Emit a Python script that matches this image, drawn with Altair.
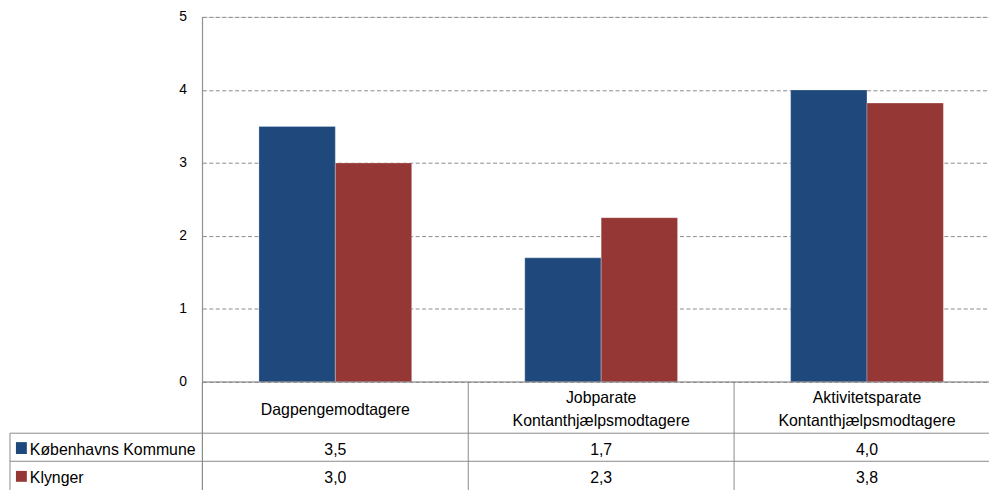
import altair as alt
import pandas as pd

# ---- data ----
categories = ["Dagpengemodtagere", "Jobparate Kontanthjælpsmodtagere", "Aktivitetsparate Kontanthjælpsmodtagere"]
category_lines = [["Dagpengemodtagere"], ["Jobparate", "Kontanthjælpsmodtagere"], ["Aktivitetsparate", "Kontanthjælpsmodtagere"]]
series = ["Københavns Kommune", "Klynger"]
kk_values = [3.5, 1.7, 4.0]
kl_values = [3.0, 2.25, 3.82]
kk_labels = ["3,5", "1,7", "4,0"]
kl_labels = ["3,0", "2,3", "3,8"]
y_ticks = [0, 1, 2, 3, 4, 5]
colors = ["#1F497D", "#953735"]

FONT = "Liberation Sans"
LINE = "#8a8a8a"

bars_df = pd.DataFrame({
    "category": categories * 2,
    "series": [series[0]] * 3 + [series[1]] * 3,
    "value": kk_values + kl_values,
    "label": kk_labels + kl_labels,
})
cat_df = pd.DataFrame({"category": categories, "lines": category_lines,
                       "n": [len(l) for l in category_lines]})
rows_df = pd.DataFrame({"series": series})
one = pd.DataFrame({"a": [0]})

x_scale = alt.Scale(domain=categories, range=[0, 804], paddingInner=0, paddingOuter=0)
x_enc = alt.X("category:N", sort=categories, scale=x_scale, axis=None)
color_enc = alt.Color("series:N", scale=alt.Scale(domain=series, range=colors), legend=None)

bars = alt.Chart(bars_df).mark_bar(stroke="white", strokeOpacity=0.35, strokeWidth=0.8).encode(
    x=x_enc,
    xOffset=alt.XOffset("series:N", sort=series, scale=alt.Scale(paddingInner=0, paddingOuter=0.74)),
    y=alt.Y("value:Q", scale=alt.Scale(domain=[0, 5]),
            axis=alt.Axis(values=y_ticks, title=None, domain=False, ticks=False,
                          labelPadding=16, labelFontSize=14, labelColor="#000000",
                          labelFont=FONT, grid=True, gridColor=LINE,
                          gridDash=[4, 2.5], gridWidth=1)),
    color=color_enc,
)

# table lines
def hrule(y, x0, x1):
    return alt.Chart(one).mark_rule(color=LINE, strokeWidth=1).encode(
        x=alt.value(x0), x2=alt.value(x1), y=alt.value(y))

def vrule(x, y0, y1):
    return alt.Chart(one).mark_rule(color=LINE, strokeWidth=1).encode(
        x=alt.value(x), y=alt.value(y0), y2=alt.value(y1))

sep = alt.Chart(cat_df).mark_rule(color=LINE, strokeWidth=1).encode(
    x=alt.X("category:N", sort=categories, scale=x_scale, axis=None, bandPosition=0),
    y=alt.value(368), y2=alt.value(490))

cat_text1 = alt.Chart(cat_df).transform_filter(alt.datum.n == 1).mark_text(
    font=FONT, fontSize=16, color="#000000", baseline="middle", lineHeight=23).encode(
    x=x_enc, y=alt.value(396), text="lines:N")
cat_text2 = alt.Chart(cat_df).transform_filter(alt.datum.n == 2).mark_text(
    font=FONT, fontSize=16, color="#000000", baseline="middle", lineHeight=23).encode(
    x=x_enc, y=alt.value(384.5), text="lines:N")

row_y = [436.5, 464.5]
sq_y = [(428.7, 440.7), (457.7, 468.7)]
layers = [bars, sep, cat_text1, cat_text2,
          hrule(368, 0, 820), hrule(419.7, -194, 820), hrule(448, -194, 820),
          vrule(0, 0, 490), vrule(-194, 419.7, 490)]
for i, s in enumerate(series):
    vals = alt.Chart(bars_df).transform_filter(alt.datum.series == s).mark_text(
        font=FONT, fontSize=16, color="#000000", baseline="middle").encode(
        x=x_enc, y=alt.value(row_y[i]), text="label:N")
    sq = alt.Chart(rows_df).transform_filter(alt.datum.series == s).mark_rect().encode(
        x=alt.value(-188), x2=alt.value(-177), y=alt.value(sq_y[i][0]), y2=alt.value(sq_y[i][1]),
        color=color_enc)
    lab = alt.Chart(rows_df).transform_filter(alt.datum.series == s).mark_text(
        font=FONT, fontSize=16, color="#000000", align="left", baseline="middle").encode(
        x=alt.value(-174), y=alt.value(row_y[i]), text="series:N")
    layers += [vals, sq, lab]

chart = alt.layer(*layers).properties(
    width=793, height=368,
    autosize=alt.AutoSizeParams(type="none"),
    padding={"left": 196, "top": 7, "right": 0, "bottom": 107},
).configure_view(stroke=None).configure(background="white")

chart.save("out.html", embed_options={"renderer": "svg", "actions": False})
